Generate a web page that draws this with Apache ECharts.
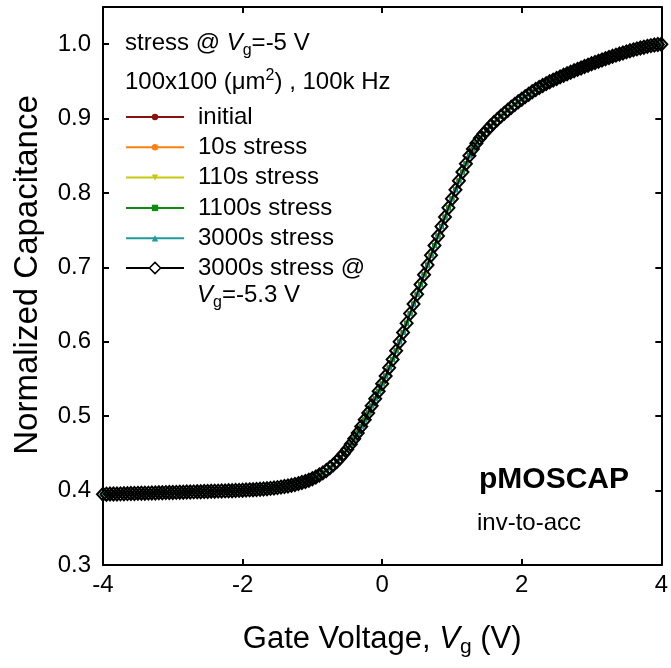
<!DOCTYPE html>
<html><head><meta charset="utf-8">
<script src="https://cdn.jsdelivr.net/npm/echarts@6/dist/echarts.min.js"></script>
<style>html,body{margin:0;padding:0;background:#fff}#chart{width:671px;height:668px}</style>
</head><body><div id="chart"></div>
<script>
const gateVoltage = [
-4.00,-3.95,-3.90,-3.85,-3.80,-3.75,-3.70,-3.65,-3.60,-3.55,
-3.50,-3.45,-3.40,-3.35,-3.30,-3.25,-3.20,-3.15,-3.10,-3.05,
-3.00,-2.95,-2.90,-2.85,-2.80,-2.75,-2.70,-2.65,-2.60,-2.55,
-2.50,-2.45,-2.40,-2.35,-2.30,-2.25,-2.20,-2.15,-2.10,-2.05,
-2.00,-1.95,-1.90,-1.85,-1.80,-1.75,-1.70,-1.65,-1.60,-1.55,
-1.50,-1.45,-1.40,-1.35,-1.30,-1.25,-1.20,-1.15,-1.10,-1.05,
-1.00,-0.95,-0.90,-0.85,-0.80,-0.75,-0.70,-0.65,-0.60,-0.55,
-0.50,-0.45,-0.40,-0.35,-0.30,-0.25,-0.20,-0.15,-0.10,-0.05,
0.00,0.05,0.10,0.15,0.20,0.25,0.30,0.35,0.40,0.45,
0.50,0.55,0.60,0.65,0.70,0.75,0.80,0.85,0.90,0.95,
1.00,1.05,1.10,1.15,1.20,1.25,1.30,1.35,1.40,1.45,
1.50,1.55,1.60,1.65,1.70,1.75,1.80,1.85,1.90,1.95,
2.00,2.05,2.10,2.15,2.20,2.25,2.30,2.35,2.40,2.45,
2.50,2.55,2.60,2.65,2.70,2.75,2.80,2.85,2.90,2.95,
3.00,3.05,3.10,3.15,3.20,3.25,3.30,3.35,3.40,3.45,
3.50,3.55,3.60,3.65,3.70,3.75,3.80,3.85,3.90,3.95,
4.00];
// normalized capacitance (all stress curves overlap)
const normCap = [
0.3950,0.3951,0.3953,0.3954,0.3955,0.3956,0.3958,0.3959,0.3960,0.3961,
0.3963,0.3964,0.3965,0.3966,0.3968,0.3969,0.3970,0.3971,0.3973,0.3974,
0.3975,0.3976,0.3978,0.3979,0.3980,0.3981,0.3983,0.3984,0.3985,0.3987,
0.3988,0.3990,0.3991,0.3993,0.3994,0.3996,0.3997,0.3999,0.4001,0.4003,
0.4005,0.4007,0.4010,0.4012,0.4015,0.4018,0.4022,0.4026,0.4030,0.4035,
0.4040,0.4047,0.4054,0.4062,0.4071,0.4081,0.4094,0.4108,0.4123,0.4140,
0.4160,0.4183,0.4209,0.4238,0.4270,0.4306,0.4346,0.4391,0.4441,0.4496,
0.4556,0.4623,0.4696,0.4775,0.4860,0.4951,0.5044,0.5139,0.5236,0.5335,
0.5436,0.5541,0.5650,0.5763,0.5880,0.6001,0.6125,0.6251,0.6379,0.6508,
0.6638,0.6769,0.6901,0.7033,0.7164,0.7294,0.7423,0.7551,0.7677,0.7801,
0.7922,0.8044,0.8164,0.8281,0.8394,0.8502,0.8592,0.8669,0.8735,0.8793,
0.8845,0.8896,0.8944,0.8989,0.9032,0.9073,0.9113,0.9152,0.9190,0.9226,
0.9261,0.9295,0.9328,0.9360,0.9391,0.9419,0.9445,0.9470,0.9494,0.9517,
0.9539,0.9561,0.9582,0.9603,0.9623,0.9643,0.9662,0.9681,0.9700,0.9718,
0.9736,0.9754,0.9771,0.9788,0.9805,0.9821,0.9837,0.9853,0.9868,0.9883,
0.9897,0.9911,0.9924,0.9937,0.9949,0.9960,0.9971,0.9981,0.9989,0.9995,
1.0000];
const stressNames = ['initial','10s stress','110s stress','1100s stress','3000s stress'];
const stressColors = ['#8b1010','#ff8010','#c8c810','#108a10','#209a9a'];
const stressSymbols = ['circle','circle','triangle','rect','triangle'];
const stressRotate = [0,0,180,0,0];
const lastName = '3000s stress @';
const xRange = [-4, 4], xStep = 2;
const yRange = [0.3, 1.05], yStep = 0.1;

const FONT = '"Liberation Sans", Arial, sans-serif';
const pts = gateVoltage.map((v, i) => [v, normCap[i]]);

const series = stressNames.map((n, k) => ({
  name: n, type: 'line', data: pts, clip: false,
  symbol: stressSymbols[k], symbolRotate: stressRotate[k], symbolSize: 5, showAllSymbol: true,
  itemStyle: {color: stressColors[k]},
  lineStyle: {color: stressColors[k], width: 2},
  emphasis: {disabled: true}, z: 2 + k
}));
series.push({
  name: lastName, type: 'line', data: pts, clip: false,
  symbol: 'diamond', symbolSize: [12, 13], showAllSymbol: true,
  itemStyle: {color: 'rgba(0,0,0,0)', borderColor: '#000', borderWidth: 2},
  lineStyle: {color: '#000', width: 1.5},
  emphasis: {disabled: true}, z: 10
});

const axisLine = {show: true, onZero: false, lineStyle: {color: '#000', width: 2}};
const tick = {show: true, inside: true, length: 6, lineStyle: {color: '#000', width: 2}};
const option = {
  animation: false,
  backgroundColor: '#fff',
  textStyle: {fontFamily: FONT},
  grid: {left: 103, right: 9, top: 7, bottom: 103},
  xAxis: [{
    type: 'value', min: xRange[0], max: xRange[1], interval: xStep,
    axisLine, axisTick: tick, splitLine: {show: false},
    axisLabel: {color: '#000', fontSize: 24, fontFamily: FONT, margin: 8},
    name: 'Gate Voltage, {i|V}{s|g} (V)', nameLocation: 'middle', nameGap: 56,
    nameTextStyle: {color: '#000', fontSize: 31, fontFamily: FONT,
      rich: {i: {fontStyle: 'italic', fontSize: 31, fontFamily: FONT, color: '#000'},
             s: {fontSize: 21, fontFamily: FONT, color: '#000', padding: [16, 0, 0, 0]}}}
  }, {
    type: 'value', position: 'top', min: xRange[0], max: xRange[1], interval: xStep,
    axisLine, axisTick: tick, axisLabel: {show: false}, splitLine: {show: false}
  }],
  yAxis: [{
    type: 'value', min: yRange[0], max: yRange[1], interval: yStep,
    axisLine, axisTick: tick, splitLine: {show: false},
    axisLabel: {color: '#000', fontSize: 24, fontFamily: FONT, margin: 12, showMaxLabel: false,
      formatter: v => v.toFixed(1)},
    name: 'Normalized Capacitance', nameLocation: 'middle', nameGap: 59,
    nameTextStyle: {color: '#000', fontSize: 33, fontFamily: FONT, padding: [0, 0, 0, 22]}
  }, {
    type: 'value', position: 'right', min: yRange[0], max: yRange[1], interval: yStep,
    axisLine, axisTick: tick, axisLabel: {show: false}, splitLine: {show: false}
  }],
  legend: [{
    data: stressNames, orient: 'vertical', left: 125, top: 104, padding: 0,
    itemWidth: 58, itemHeight: 8, itemGap: 4.3, selectedMode: false,
    textStyle: {color: '#000', fontSize: 24, fontFamily: FONT, lineHeight: 26, padding: [0, 0, 0, 9]}
  }, {
    data: [{name: lastName, itemStyle: {color: '#fff', borderColor: '#000', borderWidth: 1.5}}],
    orient: 'vertical', left: 125, top: 255, padding: 0,
    itemWidth: 58, itemHeight: 14, selectedMode: false,
    textStyle: {color: '#000', fontSize: 24, fontFamily: FONT, lineHeight: 26, padding: [0, 0, 0, 9]}
  }],
  graphic: [
    {type: 'text', x: 125, y: 43, style: {
      text: 'stress @ {i|V}{s|g}=-5 V', fontSize: 24, fontFamily: FONT, fill: '#000', verticalAlign: 'middle',
      rich: {i: {fontStyle: 'italic', fontSize: 24, fontFamily: FONT}, s: {fontSize: 16, fontFamily: FONT, padding: [16, 0, 0, 0]}}}},
    {type: 'text', x: 125, y: 82, style: {
      text: '100x100 (\u03bcm{p|2}) , 100k Hz', fontSize: 24, fontFamily: FONT, fill: '#000', verticalAlign: 'middle',
      rich: {p: {fontSize: 16, fontFamily: FONT, padding: [0, 0, 12, 0]}}}},
    {type: 'text', x: 197, y: 295, style: {
      text: '{i|V}{s|g}=-5.3 V', fontSize: 24, fontFamily: FONT, fill: '#000', verticalAlign: 'middle',
      rich: {i: {fontStyle: 'italic', fontSize: 24, fontFamily: FONT}, s: {fontSize: 16, fontFamily: FONT, padding: [16, 0, 0, 0]}}}},
    {type: 'text', x: 479, y: 480, style: {
      text: 'pMOSCAP', fontSize: 30, fontWeight: 'bold', fontFamily: FONT, fill: '#000', verticalAlign: 'middle'}},
    {type: 'text', x: 477, y: 523, style: {
      text: 'inv-to-acc', fontSize: 24, fontFamily: FONT, fill: '#000', verticalAlign: 'middle'}}
  ],
  series
};
const chart = echarts.init(document.getElementById('chart'), null, {renderer: 'canvas'});
chart.setOption(option);
</script></body></html>
